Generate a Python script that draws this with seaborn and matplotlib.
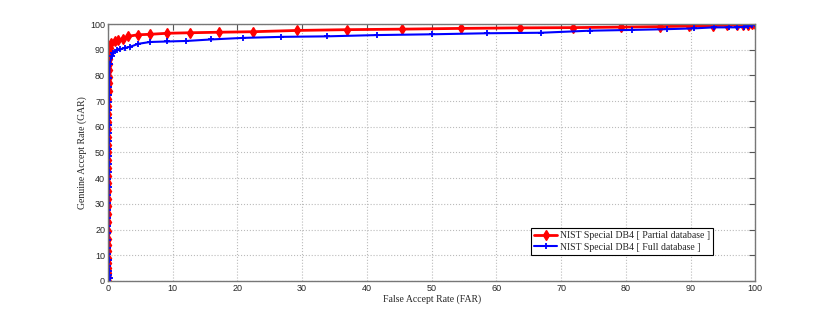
import numpy as np
import pandas as pd
import matplotlib
matplotlib.use("Agg")
import matplotlib.pyplot as plt
import seaborn as sns

# ROC-like curves: FAR (x) vs GAR (y)
far_partial = [0.0, 0.02, 0.05, 0.03, 0.04, 0.02, 0.03, 0.05, 0.04, 0.03, 0.05, 0.04, 0.05, 0.06,
               0.05, 0.06, 0.05, 0.06, 0.07, 0.06, 0.07, 0.06, 0.07, 0.08, 0.07, 0.08, 0.09, 0.1,
               0.1, 0.12, 0.15, 0.18, 0.2, 0.25, 0.3,
               0.5, 1.1, 1.6, 2.4, 3.1, 4.6, 6.5, 9.2, 12.7, 17.1, 22.4, 29.2, 36.9, 45.4, 54.6,
               63.7, 71.9, 79.3, 85.3, 89.8, 93.4, 95.7, 97.2, 98.1, 98.9, 99.5, 100.0]
gar_partial = [0.0, 1.5, 3.0, 5.0, 7.0, 9.0, 11.5, 14.0, 16.5, 19.5, 23.0, 26.0, 29.0, 32.0,
               35.0, 38.0, 41.0, 44.0, 47.0, 50.0, 53.0, 56.0, 59.0, 62.0, 65.0, 68.0, 71.0, 74.0,
               77.0, 79.5, 82.0, 84.5, 86.5, 88.5, 90.5,
               92.7, 93.3, 93.7, 94.0, 95.2, 95.8, 96.0, 96.4, 96.6, 96.8, 97.0, 97.5, 97.8, 98.0, 98.3,
               98.5, 98.6, 98.8, 99.0, 99.2, 99.4, 99.5, 99.6, 99.7, 99.8, 99.9, 100.0]

far_full = [0.0, 0.3, 0.1, 0.2, 0.05, 0.1, 0.08, 0.06, 0.05, 0.07, 0.06, 0.08, 0.07, 0.09,
            0.08, 0.1, 0.09, 0.1, 0.11, 0.1, 0.12, 0.11, 0.12, 0.13, 0.12, 0.14, 0.15, 0.16,
            0.18, 0.2, 0.25,
            0.57, 0.82, 1.34, 1.85, 2.6, 3.4, 4.7, 6.5, 9.1, 12.1, 16.0, 20.9, 26.8, 33.8,
            41.6, 50.0, 58.6, 66.9, 74.4, 81.0, 86.4, 90.5, 93.6, 95.9, 97.2, 98.2, 98.9, 99.5, 100.0]
gar_full = [0.0, 1.0, 2.5, 4.0, 6.0, 8.0, 10.5, 13.0, 16.0, 18.5, 21.5, 24.5, 27.5, 30.5,
            33.5, 36.5, 39.5, 42.5, 45.5, 48.5, 51.5, 54.5, 57.5, 60.5, 63.5, 66.5, 69.5, 72.5,
            75.5, 79.0, 84.3,
            87.5, 88.8, 89.7, 90.1, 90.7, 91.1, 92.3, 93.0, 93.2, 93.4, 94.0, 94.6, 95.0, 95.2,
            95.7, 96.0, 96.4, 96.6, 97.4, 97.7, 98.0, 98.3, 98.7, 98.7, 98.7, 98.9, 99.3, 99.7, 100.0]

x_ticks = list(range(0, 101, 10))
y_ticks = list(range(0, 101, 10))

sns.set_style("white")
plt.rcParams["font.family"] = ["Liberation Serif", "DejaVu Serif"]
plt.rcParams["xtick.direction"] = "in"
plt.rcParams["ytick.direction"] = "in"

fig = plt.figure(figsize=(8.3, 3.16), dpi=100)
ax = fig.add_axes([0.130, 0.111, 0.780, 0.813])

sns.lineplot(x=far_partial, y=gar_partial, sort=False, estimator=None, ax=ax,
             color="#ff0000", linewidth=2, marker="d", markersize=5,
             markeredgecolor="#ff0000", markeredgewidth=1,
             label="NIST Special DB4 [ Partial database ]")
sns.lineplot(x=far_full, y=gar_full, sort=False, estimator=None, ax=ax,
             color="#0000ff", linewidth=1.5, marker="+", markersize=5, markeredgewidth=1.3,
             markeredgecolor="#0000ff", label="NIST Special DB4 [ Full database ]")

ax.set_xlim(0, 100)
ax.set_ylim(0, 100)
ax.set_xticks(x_ticks)
ax.set_yticks(y_ticks)
ax.tick_params(labelsize=6.5, top=True, right=True, length=4, color="#555555", pad=2,
               labelfontfamily="Liberation Sans")
ax.grid(True, linestyle=":", color="#bbbbbb", linewidth=0.8)
for s in ax.spines.values():
    s.set_color("#777777")
    s.set_linewidth(1)

ax.set_xlabel("False Accept Rate (FAR)", fontsize=7, labelpad=1)
ax.set_ylabel("Genuine Accept Rate (GAR)", fontsize=7, labelpad=2)

leg = ax.legend(loc="lower right", bbox_to_anchor=(0.935, 0.10), fontsize=7,
                frameon=True, fancybox=False, edgecolor="black", framealpha=1,
                borderaxespad=0, borderpad=0.35, labelspacing=0.3,
                handlelength=2.3, handletextpad=0.3)
leg.get_frame().set_linewidth(0.8)

fig.savefig("out.png", dpi=100)
